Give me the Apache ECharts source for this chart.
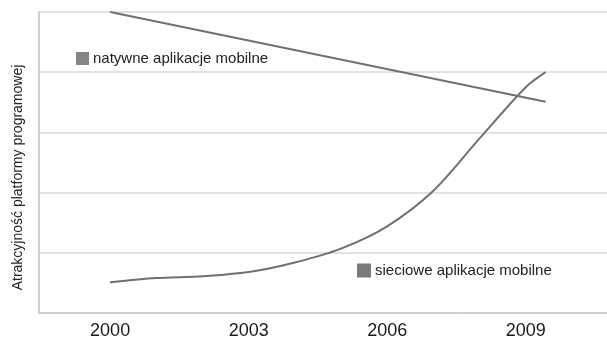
<!DOCTYPE html>
<html>
<head>
<meta charset="utf-8">
<script src="https://cdn.jsdelivr.net/npm/echarts@6/dist/echarts.min.js"></script>
<style>
  html, body { margin: 0; padding: 0; background: #fff; }
  #chart { width: 607px; height: 340px; }
</style>
</head>
<body>
<div id="chart"></div>
<script>
// Attractiveness of the platform over time (arbitrary 0–5 scale)
const yearTicks = [2000, 2003, 2006, 2009];
const bandTicks = [2001.5, 2004.5, 2007.5];

const nativeName = 'natywne aplikacje mobilne';
const nativeYears = [2000, 2009.43];
const nativeValues = [5.0, 3.51];

const webName = 'sieciowe aplikacje mobilne';
const webYears = [2000, 2001, 2002, 2003, 2004, 2005, 2006, 2007, 2008, 2009, 2009.43];
const webValues = [0.51, 0.58, 0.61, 0.68, 0.84, 1.07, 1.44, 2.03, 2.9, 3.75, 4.0];

const yAxisName = 'Atrakcyjność platformy programowej';

const pairs = (xs, ys) => xs.map((x, i) => [x, ys[i]]);

const lineColor = '#707070';
const font = 'Liberation Sans, Arial, sans-serif';

const chart = echarts.init(document.getElementById('chart'), null, { renderer: 'canvas' });
chart.setOption({
  animation: false,
  backgroundColor: '#ffffff',
  grid: { left: 39, right: 0, top: 12, bottom: 23 },
  xAxis: {
    type: 'value',
    min: 1998.46,
    max: 2010.76,
    splitLine: { show: false },
    axisLine: { show: true, lineStyle: { color: '#cfcfcf', width: 2 } },
    axisTick: { show: true, customValues: bandTicks, length: 2, lineStyle: { color: '#d8d8d8' } },
    axisLabel: {
      customValues: yearTicks,
      color: '#1a1a1a',
      fontSize: 18,
      fontFamily: font,
      margin: 9,
      formatter: v => String(v)
    }
  },
  yAxis: {
    type: 'value',
    min: 0,
    max: 5,
    interval: 1,
    name: yAxisName,
    nameLocation: 'middle',
    nameGap: 21,
    nameRotate: 90,
    nameTextStyle: {
      color: '#222', fontSize: 14, fontFamily: font, verticalAlign: 'middle',
      padding: [0, 30, 0, 0]
    },
    axisLine: { show: true, lineStyle: { color: '#d0d0d0', width: 2 } },
    axisTick: { show: false },
    axisLabel: { show: false },
    splitLine: { show: true, lineStyle: { color: '#e2e2e2', width: 2 } }
  },
  legend: [
    {
      data: [nativeName],
      left: 76, top: 51, padding: 0,
      icon: 'rect', itemWidth: 13, itemHeight: 13, itemGap: 4,
      textStyle: { color: '#222', fontSize: 15, fontFamily: font, padding: [0, 0, 0, -1] },
      selectedMode: false
    },
    {
      data: [webName],
      left: 357, top: 263, padding: 0,
      icon: 'rect', itemWidth: 14, itemHeight: 14, itemGap: 4,
      textStyle: { color: '#222', fontSize: 15, fontFamily: font, padding: [0, 0, 0, -1] },
      selectedMode: false
    }
  ],
  series: [
    {
      name: nativeName,
      type: 'line',
      data: pairs(nativeYears, nativeValues),
      showSymbol: false,
      lineStyle: { color: lineColor, width: 2 },
      itemStyle: { color: '#858585' }
    },
    {
      name: webName,
      type: 'line',
      data: pairs(webYears, webValues),
      smooth: 0.3,
      showSymbol: false,
      lineStyle: { color: lineColor, width: 2 },
      itemStyle: { color: '#7a7a7a' }
    }
  ]
});
</script>
</body>
</html>
